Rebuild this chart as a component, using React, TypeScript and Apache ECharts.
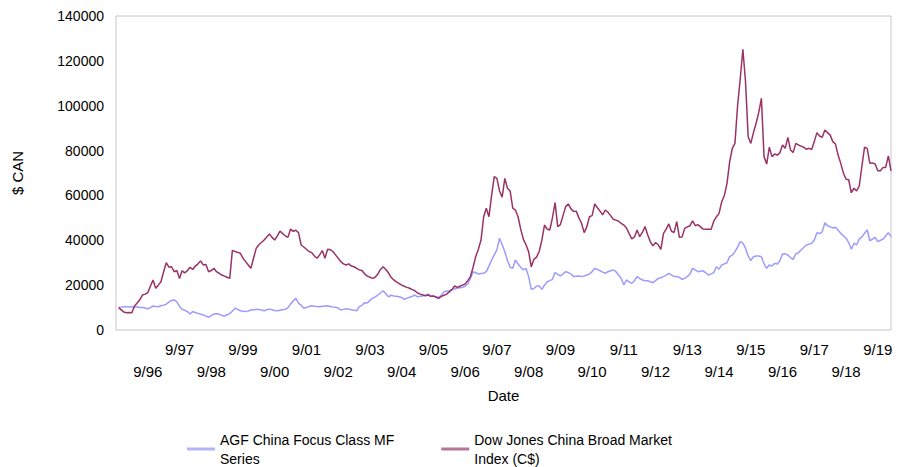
import React, { useEffect, useRef } from "react";
import * as echarts from "echarts";

// First category is Sep 1995 (axis start), data begins Oct 1995
const START_YEAR = 1995;
const START_MONTH = 9;

const seriesNames = [
  "AGF China Focus Class MF\nSeries",
  "Dow Jones China Broad Market\nIndex (C$)",
];

const yTicks = [0, 20000, 40000, 60000, 80000, 100000, 120000, 140000];

const agfFund: (number | null)[] = [
  // 1995 Sep-Dec
  null, 10000, 10200, 10400,
  // 1996
  10400, 10400, 10300, 10400, 10300, 10000, 10000, 9800, 9400, 10000, 10700, 10500,
  // 1997
  10400, 10800, 11100, 11500, 12400, 13200, 13400, 12500, 10500, 9200, 8800, 8200,
  // 1998
  7100, 8200, 7800, 7400, 7000, 6700, 6200, 5700, 6400, 7100, 7200, 7100,
  // 1999
  6500, 6200, 6800, 7300, 8500, 9700, 9200, 8600, 8400, 8200, 8500, 8900,
  // 2000
  9000, 9100, 9200, 8900, 8600, 9000, 9300, 9000, 8700, 8600, 8800, 9000,
  // 2001
  9200, 10000, 11600, 13000, 14100, 12000, 11000, 9700, 10000, 10500, 10800, 10600,
  // 2002
  10500, 10400, 10600, 10700, 10800, 10500, 10200, 10100, 9800, 8900, 9200, 9500,
  // 2003
  9300, 9000, 8800, 8600, 10400, 11000, 12200, 12000, 13200, 14100, 14800, 15600,
  // 2004
  16500, 17500, 16200, 14800, 15500, 15200, 15000, 14800, 14500, 13700, 14200, 14600,
  // 2005
  15000, 15600, 14800, 15000, 15200, 15600, 16000, 15200, 15000, 14800, 14600, 15500,
  // 2006
  17100, 17300, 17500, 18000, 18300, 18600, 18800, 19000, 19500, 20500, 23000, 26000,
  // 2007
  25500, 25000, 25200, 25300, 26000, 28500, 31200, 33500, 35700, 40900, 38000, 34900,
  // 2008
  31000, 28000, 27500, 31200, 29400, 28000, 26800, 27500, 23800, 18100, 18500, 19600,
  // 2009
  19600, 18100, 20000, 21500, 22000, 22600, 25600, 24800, 24100, 25000, 26000, 25600,
  // 2010
  25000, 23800, 24000, 24100, 23800, 24100, 24500, 25000, 26000, 27500, 27000, 26400,
  // 2011
  25800, 25300, 26000, 26400, 26800, 26000, 24500, 23000, 20100, 22300, 21500, 20800,
  // 2012
  22000, 23800, 23000, 22300, 22000, 22000, 21500, 21100, 22000, 23000, 23300, 23800,
  // 2013
  24500, 25300, 24500, 23800, 23800, 23500, 22600, 23000, 23800, 25000, 27500, 26800,
  // 2014
  26000, 26200, 26400, 25500, 24500, 25000, 25600, 28200, 27100, 29000, 29500, 30000,
  // 2015
  32700, 33400, 34900, 37000, 39400, 38700, 36500, 33000, 30900, 32700, 33000, 33000,
  // 2016
  32700, 29500, 27500, 29000, 28500, 29700, 29400, 31000, 33900, 34000, 33400, 32300,
  // 2017
  31500, 33900, 34500, 35700, 36800, 37900, 38300, 38700, 40100, 43400, 43000, 43800,
  // 2018
  47800, 46500, 46100, 45500, 45800, 44500, 43100, 42000, 40900, 39000, 36000, 38700,
  // 2019
  37900, 40500, 41500, 43100, 44600, 39800, 40500, 41300, 39400, 40000, 40500, 42000,
  // 2020 Jan-Feb
  43400, 41600,
];

const djChinaIndex: (number | null)[] = [
  // 1995 Sep-Dec
  null, 10000, 9000, 8000,
  // 1996
  7700, 7800, 7700, 10700, 12000, 13500, 15600, 16000, 16600, 19500, 22300, 18600,
  // 1997
  20000, 21500, 26000, 30000, 28000, 28200, 26000, 26500, 23000, 26400, 25500, 26500,
  // 1998
  28000, 27000, 28500, 29500, 30800, 29000, 29200, 26000, 26500, 27500, 26000, 25300,
  // 1999
  24500, 24000, 23500, 23000, 35500, 35000, 34600, 34200, 32000, 30500, 29000, 27500,
  // 2000
  32000, 36400, 38000, 39000, 40100, 41500, 42800, 41300, 40100, 42000, 44100, 43000,
  // 2001
  42000, 41300, 45000, 44000, 44500, 43400, 37900, 37000, 36000, 35000, 34500, 33000,
  // 2002
  32000, 33500, 35400, 32000, 36000, 35800, 35000, 33500, 32000, 30500, 29500, 29000,
  // 2003
  29500, 28500, 28200, 27500, 26800, 26500, 25000, 24000, 23500, 23000, 23500, 25000,
  // 2004
  27000, 28200, 27000, 25500, 23500, 22300, 21500, 20800, 20000, 19500, 19000, 18600,
  // 2005
  18000, 17500, 16500, 16000, 15600, 15200, 15600, 15000, 15200, 14600, 14100, 15000,
  // 2006
  15500, 16000, 17000, 18000, 19600, 19000, 19500, 20000, 20500, 22000, 23800, 28000,
  // 2007
  32700, 36000, 40100, 50500, 54300, 50500, 60000, 68400, 67600, 62000, 59200, 67600,
  // 2008
  63200, 62000, 54300, 53500, 50500, 45000, 40500, 38000, 34900, 28200, 31500, 32500,
  // 2009
  35000, 40100, 46800, 45000, 44600, 50000, 56800, 46100, 47000, 51000, 55000, 56200,
  // 2010
  54000, 52800, 53000, 50000, 47600, 43400, 46000, 50500, 51000, 56200, 54500, 53000,
  // 2011
  51300, 53500, 52500, 51000, 49400, 49000, 48500, 47500, 46800, 45500, 43000, 40600,
  // 2012
  41500, 44600, 41600, 43500, 46100, 42500, 39400, 37500, 39000, 38000, 36000, 43100,
  // 2013
  45000, 47300, 44000, 43500, 48300, 41300, 41500, 45300, 46000, 46500, 48700, 46500,
  // 2014
  47000, 46000, 45000, 44900, 44900, 44900, 48500, 50500, 52000, 57200, 60000, 65400,
  // 2015
  75000, 81000, 83200, 100000, 112000, 125200, 110700, 86200, 83200, 88000, 92200, 97000,
  // 2016
  103300, 77300, 74000, 81500, 77300, 78500, 78000, 79000, 82500, 81000, 85900, 80300,
  // 2017
  79100, 83200, 82500, 82000, 81500, 80600, 81000, 80500, 84000, 88000, 86500, 85900,
  // 2018
  89200, 88000, 86900, 84000, 82900, 78000, 74300, 70000, 67200, 67000, 61200, 63200,
  // 2019
  62000, 64200, 73000, 81500, 81000, 74300, 74500, 74000, 71000, 71000, 72500, 72500,
  // 2020 Jan-Feb
  77600, 71000,
];

const monthLabels: string[] = agfFund.map((_, i) => {
  const m0 = START_MONTH - 1 + i;
  const y = START_YEAR + Math.floor(m0 / 12);
  const m = (m0 % 12) + 1;
  return `${m}/${String(y % 100).padStart(2, "0")}`;
});

const FONT = "'Liberation Sans', Arial, sans-serif";

export default function App() {
  const ref = useRef<HTMLDivElement>(null);
  useEffect(() => {
    if (!ref.current) return;
    const chart = echarts.init(ref.current, undefined, { renderer: "svg" });
    chart.setOption({
      animation: false,
      textStyle: { fontFamily: FONT, color: "#000" },
      grid: {
        left: 116,
        right: 16,
        top: 16,
        bottom: 137,
        show: true,
        borderColor: "#c6c6c6",
        borderWidth: 1,
        backgroundColor: "transparent",
      },
      legend: {
        left: 182,
        top: 425,
        itemGap: 47,
        itemWidth: 28,
        itemHeight: 3,
        icon: "rect",
        textStyle: { fontFamily: FONT, fontSize: 14, color: "#000", lineHeight: 19 },
        data: seriesNames,
      },
      xAxis: {
        type: "category",
        data: monthLabels,
        boundaryGap: false,
        name: "Date",
        nameLocation: "middle",
        nameGap: 58,
        nameTextStyle: { fontFamily: FONT, fontSize: 15, color: "#000" },
        axisLine: { show: false },
        axisTick: { show: false },
        splitLine: { show: false },
        axisLabel: {
          interval: (_i: number, v: string) => v.startsWith("9/") && v !== "9/95",
          formatter: (v: string) => {
            const yy = parseInt(v.split("/")[1], 10);
            return yy % 2 === 1 ? v : "\n" + v;
          },
          fontFamily: FONT,
          fontSize: 15,
          lineHeight: 22,
          color: "#000",
          margin: 8,
        },
      },
      yAxis: {
        type: "value",
        min: yTicks[0],
        max: yTicks[yTicks.length - 1],
        interval: yTicks[1] - yTicks[0],
        name: "$ CAN",
        nameLocation: "middle",
        nameGap: 91,
        nameTextStyle: { fontFamily: FONT, fontSize: 15, color: "#000" },
        axisLine: { show: false },
        axisTick: { show: false },
        splitLine: { show: false },
        axisLabel: {
          fontFamily: FONT,
          fontSize: 14,
          color: "#000",
          margin: 12,
          formatter: (v: number) => String(v),
        },
      },
      series: [
        {
          name: seriesNames[0],
          type: "line",
          data: agfFund,
          showSymbol: false,
          symbol: "none",
          lineStyle: { color: "#9c9cff", width: 1.5 },
          itemStyle: { color: "#b4b4f4" },
        },
        {
          name: seriesNames[1],
          type: "line",
          data: djChinaIndex,
          showSymbol: false,
          symbol: "none",
          lineStyle: { color: "#993366", width: 1.5 },
          itemStyle: { color: "#b57798" },
        },
      ],
    });
    return () => chart.dispose();
  }, []);
  return (
    <div
      ref={ref}
      style={{ position: "absolute", left: 0, top: 0, width: 907, height: 467 }}
    />
  );
}
